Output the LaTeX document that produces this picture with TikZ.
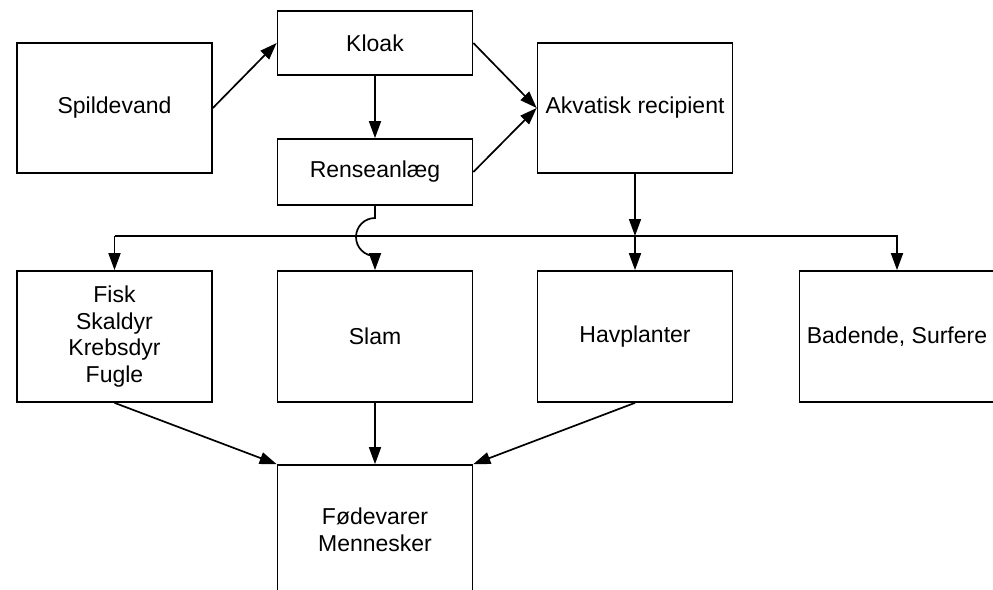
\documentclass[tikz,border=0pt]{standalone}
\usepackage{fontspec}
\setmainfont{Liberation Sans}
\usetikzlibrary{arrows.meta}
\begin{document}
\begin{tikzpicture}[x=1pt,y=-1pt,
  box/.style={draw, line width=1.7pt, minimum width=195pt, inner sep=0pt, align=center,
    font=\fontsize{23}{26.5}\selectfont},
  tip/.style={-{Triangle[length=17pt,width=12pt]}},
  flow/.style={line width=1.7pt, tip},
  plain/.style={line width=1.7pt}]
\useasboundingbox (0,0) rectangle (993,589);
\node[box, minimum height=130pt] (spild) at (114.5,108) {Spildevand};
\node[box, minimum height=64pt] (kloak) at (375,43) {Kloak};
\node[box, minimum height=66pt] (rense) at (375,172) {Renseanlæg};
\node[box, minimum height=130pt] (akva) at (635,108) {Akvatisk recipient};
\node[box, minimum height=131pt] (fisk) at (114.5,336.5) {Fisk\\Skaldyr\\Krebsdyr\\Fugle};
\node[box, minimum height=131pt] (slam) at (375,336.5) {Slam};
\node[box, minimum height=131pt] (hav) at (635,336.5) {Havplanter};
\node[box, minimum height=131pt] (bad) at (897,336.5) {Badende, Surfere};
\node[box, minimum height=130pt] (food) at (375,530) {Fødevarer\\Mennesker};
\coordinate (bl) at (114.5,236);
\coordinate (br) at (897,236);
\coordinate (bm) at (635,236);
\coordinate (hopa) at (375,218);
\coordinate (hopb) at (375,256);
\draw[flow] (spild.east) -- (kloak.west);
\draw[flow] (kloak.south) -- (rense.north);
\draw[flow] (kloak.east) -- (akva.west);
\draw[flow] (rense.east) -- (akva.west);
\draw[flow] (akva.south) -- (bm);
\draw[flow] (bm) -- (hav.north);
\draw[flow] (bl) -- (fisk.north);
\draw[flow] (bl) -- (br) -- (bad.north);
\draw[flow] (rense.south) -- (hopa) arc[start angle=90, end angle=270, radius=19pt] -- (slam.north);
\draw[flow] (fisk.south) -- (food.north west);
\draw[flow] (slam.south) -- (food.north);
\draw[flow] (hav.south) -- (food.north east);
\end{tikzpicture}
\end{document}
